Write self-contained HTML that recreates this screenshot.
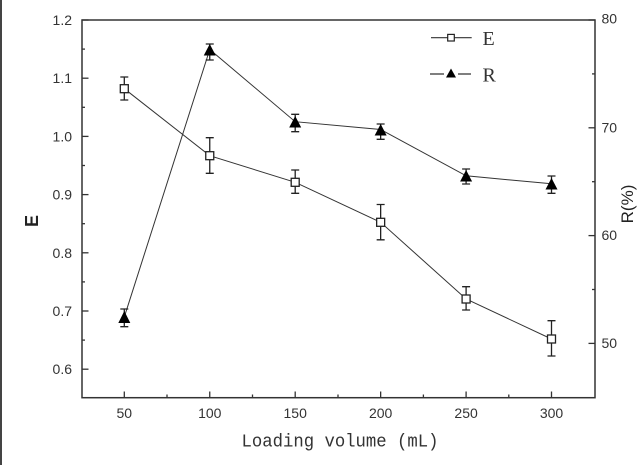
<!DOCTYPE html>
<html><head><meta charset="utf-8"><style>
html,body{margin:0;padding:0;background:#fff;}
svg{display:block;}
</style></head><body>
<svg width="640" height="465" viewBox="0 0 640 465" xmlns="http://www.w3.org/2000/svg">
<rect x="0" y="0" width="640" height="465" fill="#fff"/>
<rect x="0" y="0" width="2" height="465" fill="#444"/>
<!-- frame -->
<rect x="82" y="20" width="513" height="377.7" fill="none" stroke="#333" stroke-width="1.5"/>
<g stroke="#333" stroke-width="1.3">
<line x1="82" y1="20" x2="88.5" y2="20"/>
<line x1="82" y1="78.2" x2="88.5" y2="78.2"/>
<line x1="82" y1="136.4" x2="88.5" y2="136.4"/>
<line x1="82" y1="194.6" x2="88.5" y2="194.6"/>
<line x1="82" y1="252.8" x2="88.5" y2="252.8"/>
<line x1="82" y1="311" x2="88.5" y2="311"/>
<line x1="82" y1="369.2" x2="88.5" y2="369.2"/>
<line x1="82" y1="49.1" x2="85" y2="49.1"/>
<line x1="82" y1="107.3" x2="85" y2="107.3"/>
<line x1="82" y1="165.5" x2="85" y2="165.5"/>
<line x1="82" y1="223.7" x2="85" y2="223.7"/>
<line x1="82" y1="281.9" x2="85" y2="281.9"/>
<line x1="82" y1="340.1" x2="85" y2="340.1"/>
<line x1="588.5" y1="20" x2="595" y2="20"/>
<line x1="588.5" y1="127.8" x2="595" y2="127.8"/>
<line x1="588.5" y1="235.6" x2="595" y2="235.6"/>
<line x1="588.5" y1="343.4" x2="595" y2="343.4"/>
<line x1="592" y1="73.9" x2="595" y2="73.9"/>
<line x1="592" y1="181.7" x2="595" y2="181.7"/>
<line x1="592" y1="289.5" x2="595" y2="289.5"/>
<line x1="124.3" y1="397.7" x2="124.3" y2="391.5"/>
<line x1="209.75" y1="397.7" x2="209.75" y2="391.5"/>
<line x1="295.2" y1="397.7" x2="295.2" y2="391.5"/>
<line x1="380.65" y1="397.7" x2="380.65" y2="391.5"/>
<line x1="466.1" y1="397.7" x2="466.1" y2="391.5"/>
<line x1="551.5" y1="397.7" x2="551.5" y2="391.5"/>
<line x1="167" y1="397.7" x2="167" y2="394.5"/>
<line x1="252.5" y1="397.7" x2="252.5" y2="394.5"/>
<line x1="338" y1="397.7" x2="338" y2="394.5"/>
<line x1="423.4" y1="397.7" x2="423.4" y2="394.5"/>
<line x1="508.8" y1="397.7" x2="508.8" y2="394.5"/>
</g>
<g font-family="Liberation Sans, Arial, sans-serif" font-size="14" fill="#333">
<g text-anchor="end">
<text x="72" y="25">1.2</text>
<text x="72" y="83.2">1.1</text>
<text x="72" y="141.4">1.0</text>
<text x="72" y="199.6">0.9</text>
<text x="72" y="257.8">0.8</text>
<text x="72" y="316">0.7</text>
<text x="72" y="374.2">0.6</text>
</g>
<g text-anchor="middle">
<text x="124.3" y="418">50</text>
<text x="209.75" y="418">100</text>
<text x="295.2" y="418">150</text>
<text x="380.65" y="418">200</text>
<text x="466.1" y="418">250</text>
<text x="551.5" y="418">300</text>
</g>
<text x="601.5" y="23.5">80</text>
<text x="601.5" y="132.5">70</text>
<text x="601.5" y="240">60</text>
<text x="601.5" y="348">50</text>
</g>
<text transform="translate(38,221) rotate(-90)" text-anchor="middle" font-family="Liberation Sans, Arial, sans-serif" font-size="18" font-weight="bold" fill="#222">E</text>
<text transform="translate(633,204) rotate(-90)" text-anchor="middle" font-family="Liberation Sans, Arial, sans-serif" font-size="17" fill="#222">R(%)</text>
<text x="241.5" y="446.5" font-family="Liberation Mono, monospace" font-size="18" fill="#333" textLength="197" lengthAdjust="spacingAndGlyphs">Loading volume (mL)</text>
<g fill="none" stroke="#333" stroke-width="1">
<polyline points="124.3,88.7 209.75,155.7 295.2,182.3 380.65,222.3 466.1,299 551.5,339"/>
<polyline points="124.3,317 209.75,49.5 295.2,121.7 380.65,129.5 466.1,175.8 551.5,183.8"/>
</g>
<g stroke="#222" stroke-width="1.3" fill="none">
<path d="M124.3,77V100M120.3,77H128.3M120.3,100H128.3"/>
<path d="M209.75,137.7V173.3M205.75,137.7H213.75M205.75,173.3H213.75"/>
<path d="M295.2,170V193.3M291.2,170H299.2M291.2,193.3H299.2"/>
<path d="M380.65,204.5V239.8M376.65,204.5H384.65M376.65,239.8H384.65"/>
<path d="M466.1,286.7V310M462.1,286.7H470.1M462.1,310H470.1"/>
<path d="M551.5,320.7V356M547.5,320.7H555.5M547.5,356H555.5"/>
<path d="M124.3,309V326.7M120.3,309H128.3M120.3,326.7H128.3"/>
<path d="M209.75,44V60M205.75,44H213.75M205.75,60H213.75"/>
<path d="M295.2,114.3V131.7M291.2,114.3H299.2M291.2,131.7H299.2"/>
<path d="M380.65,124V139.3M376.65,124H384.65M376.65,139.3H384.65"/>
<path d="M466.1,169V184M462.1,169H470.1M462.1,184H470.1"/>
<path d="M551.5,176V193.3M547.5,176H555.5M547.5,193.3H555.5"/>
</g>
<g fill="#fff" stroke="#222" stroke-width="1.3">
<rect x="120.3" y="84.7" width="8" height="8"/>
<rect x="205.75" y="151.7" width="8" height="8"/>
<rect x="291.2" y="178.3" width="8" height="8"/>
<rect x="376.65" y="218.3" width="8" height="8"/>
<rect x="462.1" y="295" width="8" height="8"/>
<rect x="547.5" y="335" width="8" height="8"/>
</g>
<g fill="#000">
<polygon points="124.3,311 130.3,323 118.3,323"/>
<polygon points="209.75,44 215.75,55.5 203.75,55.5"/>
<polygon points="295.2,116 301.2,127.5 289.2,127.5"/>
<polygon points="380.65,124 386.65,135.5 374.65,135.5"/>
<polygon points="466.1,170 472.1,181.5 460.1,181.5"/>
<polygon points="551.5,178 557.5,189.5 545.5,189.5"/>
</g>
<line x1="431" y1="37.7" x2="471.7" y2="37.7" stroke="#333" stroke-width="1.2"/>
<rect x="447.7" y="34.4" width="6.6" height="6.6" fill="#fff" stroke="#222" stroke-width="1.2"/>
<line x1="430" y1="74" x2="471" y2="74" stroke="#333" stroke-width="1.2"/>
<rect x="444" y="68" width="14" height="10" fill="#fff"/>
<polygon points="451,68.5 456,77.5 446,77.5" fill="#000"/>
<text x="482.5" y="45" font-family="Liberation Serif, serif" font-size="20" fill="#333">E</text>
<text x="482.5" y="81.7" font-family="Liberation Serif, serif" font-size="20" fill="#333">R</text>
</svg>
</body></html>
